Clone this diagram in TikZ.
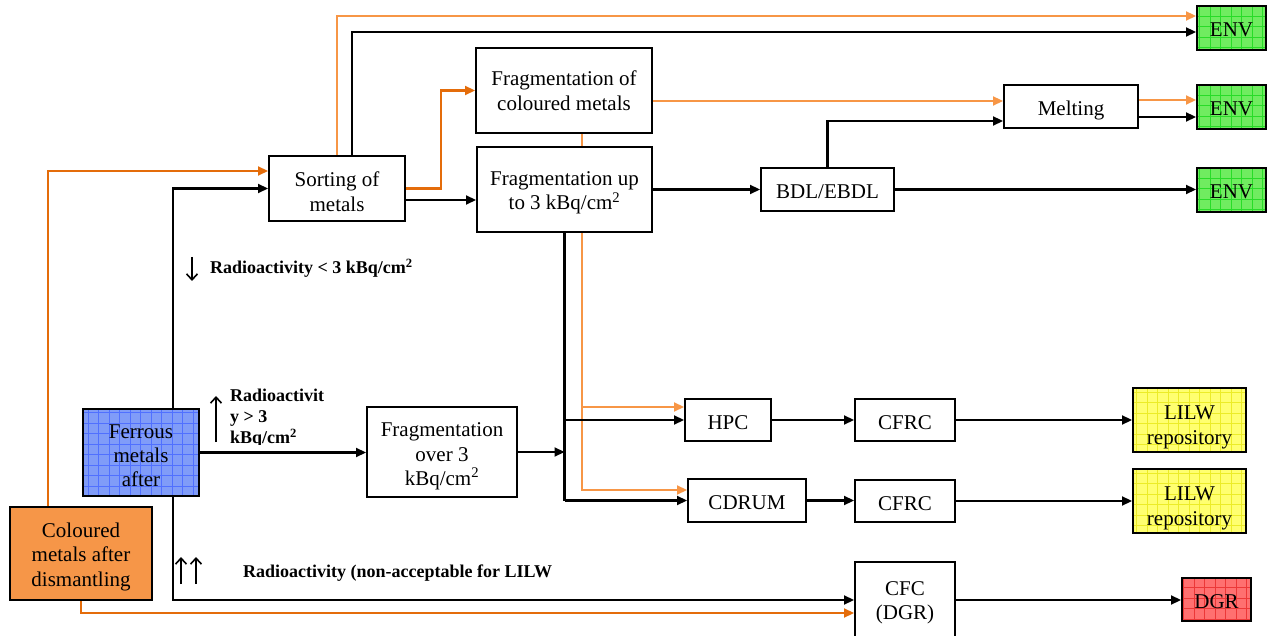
\documentclass[tikz,border=0pt]{standalone}
\usepackage{fontspec}
\setmainfont{Liberation Serif}
\usetikzlibrary{arrows.meta,backgrounds}

\definecolor{orgdark}{RGB}{228,108,10}
\definecolor{orglight}{RGB}{247,150,70}
\definecolor{orgfill}{RGB}{246,150,72}
\definecolor{bluefill}{RGB}{128,156,248}
\definecolor{bluegrid}{RGB}{80,112,255}
\definecolor{greenfill}{RGB}{112,236,96}
\definecolor{greengrid}{RGB}{40,220,40}
\definecolor{yelfill}{RGB}{255,255,112}
\definecolor{yelgrid}{RGB}{236,236,40}
\definecolor{redfill}{RGB}{255,112,112}
\definecolor{redgrid}{RGB}{236,56,56}

\newcommand\boxfont{\rmfamily\fontsize{21}{24.5}\selectfont}
\newcommand\labelfont{\rmfamily\fontsize{18}{21}\selectfont\bfseries}
% struts that fix the extent of the first and last text line in a box
\newcommand\boxtop[1][21pt]{\rule{0pt}{#1}}
\newcommand\boxbot{\rule[-5pt]{0pt}{5pt}}

\tikzset{
  box/.style={draw, line width=2pt, fill=white, align=center, inner sep=0pt, font=\boxfont},
  oneline/.style={text height=23pt, text depth=5pt},
  gridded/.style 2 args={fill=#1, path picture={
      \draw[#2, line width=0.7pt] (path picture bounding box.south west)
        grid[step=10.5pt] (path picture bounding box.north east);}},
  conn/.style={line width=2.2pt, -{Triangle[length=10pt,width=9pt]}},
  blk/.style={conn, black},
  ord/.style={conn, orgdark},
  orl/.style={conn, orglight},
  hint/.style={line width=1.6pt, -{Straight Barb[length=6pt,width=11pt]}},
}

\begin{document}
\begin{tikzpicture}[x=1pt, y=-1pt]
\useasboundingbox (0,0) rectangle (1270,636);

% process boxes
\node[box, minimum width=136pt, minimum height=65pt] (sort) at (337,188.5) {\boxtop[26pt]Sorting of\\metals\boxbot};
\node[box, minimum width=176pt, minimum height=85pt] (frc) at (564,90.5) {\boxtop[20pt]Fragmentation of\\coloured metals\boxbot};
\node[box, minimum width=175pt, minimum height=85pt] (fr3) at (564.5,189.5) {\boxtop[21pt]Fragmentation up\\to 3 kBq/cm\textsuperscript{2}\boxbot};
\node[box, oneline, minimum width=133pt, minimum height=43pt] (bdl) at (827.5,189.5) {BDL/EBDL};
\node[box, oneline, minimum width=134pt, minimum height=43pt] (melt) at (1071,106.5) {Melting};
\node[box, minimum width=150pt, minimum height=90pt] (fov) at (442,452) {\boxtop[23pt]Fragmentation\\over 3\\kBq/cm\textsuperscript{2}\boxbot};
\node[box, oneline, minimum width=86pt, minimum height=42pt] (hpc) at (728,420) {HPC};
\node[box, oneline, minimum width=118pt, minimum height=43pt] (cdrum) at (747,500.5) {CDRUM};
\node[box, oneline, minimum width=100pt, minimum height=42pt] (cfrc1) at (905,420) {CFRC};
\node[box, oneline, minimum width=100pt, minimum height=42pt] (cfrc2) at (905,501) {CFRC};
\node[box, minimum width=100pt, minimum height=76pt] (cfc) at (905,600) {\boxtop[20pt]CFC\\(DGR)\boxbot};

% source boxes
\node[box, gridded={bluefill}{bluegrid}, minimum width=116pt, minimum height=87pt, font=\rmfamily\fontsize{21}{24}\selectfont] (fer) at (141,452.5) {\boxtop[24pt]Ferrous\\metals\\after\boxbot};
\node[box, fill=orgfill, minimum width=142pt, minimum height=93pt] (col) at (81,553.5) {\boxtop[21pt]Coloured\\metals after\\dismantling\boxbot};

% destination boxes
\node[box, oneline, gridded={greenfill}{greengrid}, minimum width=69pt, minimum height=44pt] (env1) at (1231.5,28) {ENV};
\node[box, oneline, gridded={greenfill}{greengrid}, minimum width=69pt, minimum height=44pt] (env2) at (1231.5,107) {ENV};
\node[box, oneline, gridded={greenfill}{greengrid}, minimum width=69pt, minimum height=44pt] (env3) at (1231.5,190) {ENV};
\node[box, gridded={yelfill}{yelgrid}, minimum width=113pt, minimum height=64pt, font=\rmfamily\fontsize{21}{25}\selectfont] (lilw1) at (1189.5,420) {\boxtop[29pt]LILW\\repository\boxbot};
\node[box, gridded={yelfill}{yelgrid}, minimum width=113pt, minimum height=64pt, font=\rmfamily\fontsize{21}{25}\selectfont] (lilw2) at (1189.5,501) {\boxtop[29pt]LILW\\repository\boxbot};
\node[box, oneline, gridded={redfill}{redgrid}, minimum width=69pt, minimum height=43pt] (dgr) at (1216.5,599.5) {DGR};

% coloured-metal route through the fragmentation stage (runs behind it)
\begin{scope}[on background layer]
\draw[orl] ([xshift=18pt]frc.south) |- ([yshift=13pt]hpc.west);
\draw[orl] ([xshift=18pt]frc.south) |- ([yshift=10.5pt]cdrum.west);
\end{scope}

% inputs to sorting
\draw[ord] ([xshift=-33pt]col.north) |- ([yshift=17.5pt]sort.west);
\draw[blk] ([xshift=32pt]fer.north) |- (sort.west);

% sorting outputs
\draw[orl] (sort.north) |- ([yshift=12pt]env1.west);
\draw[blk] ([xshift=15pt]sort.north) |- ([yshift=-4pt]env1.west);
\draw[ord] (sort.east) -- ++(35,0) |- (frc.west);
\coordinate (s2) at ([yshift=-11.5pt]sort.east);
\draw[blk] (s2) -- (s2 -| fr3.west);

% fragmentation and melting
\coordinate (f1) at ([yshift=-10.5pt]frc.east);
\draw[orl] (f1) -- (f1 -| melt.west);
\draw[blk] (fr3.east) -- (bdl.west);
\draw[blk] (bdl.north) |- ([yshift=-14.5pt]melt.west);
\draw[blk] (bdl.east) -- (bdl.east -| env3.west);
\coordinate (m1) at ([yshift=6.5pt]melt.east);
\coordinate (m2) at ([yshift=-10.5pt]melt.east);
\draw[orl] (m1) -- (m1 -| env2.west);
\draw[blk] (m2) -- (m2 -| env2.west);

% high-activity branch
\draw[blk] (fer.east) -- (fer.east -| fov.west);
\draw[blk] (fov.east) -- (fov.east -| fr3.south);
\draw[line width=2.2pt] (fr3.south) -- (fr3.south |- cdrum.west);
\draw[blk] (fr3.south |- hpc.west) -- (hpc.west);
\draw[blk] (fr3.south |- cdrum.west) -- (cdrum.west);
\draw[blk] (hpc.east) -- (cfrc1.west);
\draw[blk] (cfrc1.east) -- (lilw1.west);
\draw[blk] (cdrum.east) -- (cdrum.east -| cfrc2.west);
\draw[blk] (cfrc2.east) -- (lilw2.west);

% non-acceptable branch
\draw[blk] ([xshift=32pt]fer.south) |- (cfc.west);
\draw[ord] (col.south) |- ([yshift=-13pt]cfc.west);
\draw[blk] (cfc.east) -- (cfc.east -| dgr.west);

% activity notes
\draw[hint] (192,257) -- (192,281);
\node[font=\labelfont, anchor=west, inner sep=0pt] (lab1) at (210,268) {Radioactivity < 3 kBq/cm\textsuperscript{2}};
\draw[hint] (216,442) -- (216,396);
\begin{scope}
\clip (222,380) rectangle (340,444);
\node[font=\labelfont, anchor=north west, align=left, inner sep=0pt] (lab2) at (230,389) {Radioactivit\\y > 3\\kBq/cm\textsuperscript{2}};
\end{scope}
\draw[hint] (181,584) -- (181,557);
\draw[hint] (196,584) -- (196,557);
\node[font=\labelfont, anchor=west, inner sep=0pt] (lab3) at (243,573) {Radioactivity (non-acceptable for LILW};
\end{tikzpicture}
\end{document}
